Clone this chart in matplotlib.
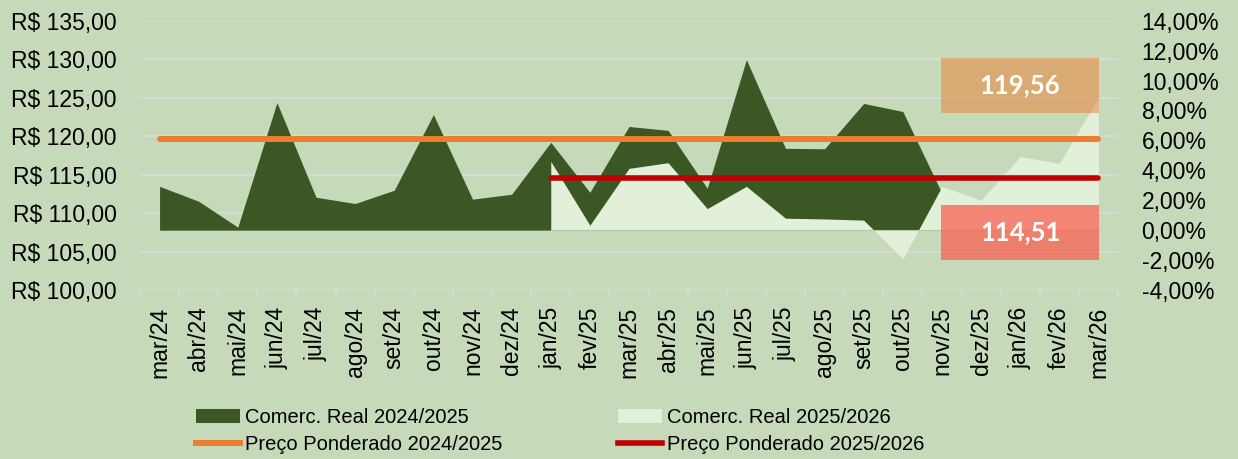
import matplotlib
matplotlib.use('Agg')
import matplotlib.pyplot as plt
from matplotlib.patches import Patch, Rectangle
from matplotlib.lines import Line2D
from matplotlib.ticker import FixedLocator, FuncFormatter
import numpy as np

plt.rcParams['font.family'] = ['Liberation Sans', 'DejaVu Sans']

months = ['mar/24', 'abr/24', 'mai/24', 'jun/24', 'jul/24', 'ago/24', 'set/24',
          'out/24', 'nov/24', 'dez/24', 'jan/25', 'fev/25', 'mar/25', 'abr/25',
          'mai/25', 'jun/25', 'jul/25', 'ago/25', 'set/25', 'out/25', 'nov/25',
          'dez/25', 'jan/26', 'fev/26', 'mar/26']

# Comerc. Real 2024/2025 (% , right axis) mar/24 .. nov/25
real_2425 = [2.93, 1.93, 0.20, 8.53, 2.20, 1.78, 2.67, 7.73, 2.07, 2.40,
             5.87, 2.53, 6.93, 6.67, 2.80, 11.40, 5.47, 5.44, 8.47, 7.93, 2.47]
# Comerc. Real 2025/2026 (% , right axis) jan/25 .. mar/26
real_2526 = [4.60, 0.33, 4.13, 4.51, 1.44, 2.93, 0.80, 0.75, 0.67, -1.93,
             2.93, 2.00, 4.93, 4.47, 8.87]
start_2526 = months.index('jan/25')

preco_2425 = 119.56   # R$ (left axis), mar/24 .. mar/26
preco_2526 = 114.51   # R$ (left axis), jan/25 .. mar/26

left_ticks = [100, 105, 110, 115, 120, 125, 130, 135]
right_ticks = [-4, -2, 0, 2, 4, 6, 8, 10, 12, 14]

BG = '#c6d9b8'
DARK = '#3b5723'
LIGHT = '#e2efd9'
ORANGE = '#ed7d31'
RED = '#c00000'
GRID = '#d9d9d9'

fig = plt.figure(figsize=(12.38, 4.59), dpi=100, facecolor=BG)
ax = fig.add_axes([140/1238, 1-290/459, (1118-140)/1238, (290-20.7)/459])
ax.set_facecolor('none')
ax2 = ax.twinx()
ax2.set_facecolor('none')

ax.set_xlim(-0.5, len(months) - 0.5)
ax.set_ylim(100, 135)
ax2.set_ylim(-4, 14)

# grid
ax.set_axisbelow(True)
ax.yaxis.set_major_locator(FixedLocator(left_ticks))
ax.grid(axis='y', color=GRID, lw=1.3, zorder=0)

# areas (percent scale of right axis)
x1 = np.arange(len(real_2425))
ax.fill_between(x1, 0, real_2425, color=DARK, lw=0, zorder=2,
                transform=ax2.transData)
x2 = np.arange(start_2526, start_2526 + len(real_2526))
ax.fill_between(x2, 0, real_2526, color=LIGHT, lw=0, zorder=3,
                transform=ax2.transData)
ax.plot([start_2526, len(months) - 1], [0, 0], color='#b5c9a6', lw=0.8,
        zorder=3.5, transform=ax2.transData)

# weighted price lines
xa = np.arange(len(months))
ax.plot(xa, [preco_2425] * len(xa), color=ORANGE, lw=4.3,
        solid_capstyle='round', zorder=4)
xb = np.arange(start_2526, len(months))
ax.plot(xb, [preco_2526] * len(xb), color=RED, lw=4.0,
        solid_capstyle='round', zorder=4)

# value boxes
fmt = lambda v: f"{v:.2f}".replace('.', ',')
ax.add_patch(Rectangle((19.98, 123.0), 4.04, 7.15, facecolor=ORANGE,
                       alpha=0.5, lw=0, zorder=5))
ax.text(22.0, 126.6, fmt(preco_2425), color='white', fontsize=18.5,
        fontweight='bold', family='Lato', ha='center', va='center', zorder=6)
ax.add_patch(Rectangle((19.98, 103.93), 4.04, 7.11, facecolor='#ff5448',
                       alpha=0.68, lw=0, zorder=5))
ax.text(22.0, 107.5, fmt(preco_2526), color='white', fontsize=18.5,
        fontweight='bold', family='Lato', ha='center', va='center', zorder=6)

# ticks
ax.yaxis.set_major_formatter(FuncFormatter(lambda v, p: 'R$ ' + f"{v:.2f}".replace('.', ',')))
ax.tick_params(axis='y', length=0, pad=17, labelsize=16.5)
ax2.yaxis.set_major_locator(FixedLocator(right_ticks))
ax2.yaxis.set_major_formatter(FuncFormatter(lambda v, p: f"{v:.2f}".replace('.', ',') + '%'))
ax2.tick_params(axis='y', length=0, pad=17, labelsize=16.5)

ax.set_xticks(xa)
ax.set_xticklabels(months, rotation=90, fontsize=16.5)
ax.set_xticks(np.arange(-0.5, len(months)), minor=True)
ax.tick_params(axis='x', which='major', length=0, pad=12)
ax.tick_params(axis='x', which='minor', length=6, width=1.3, color=GRID)

for a in (ax, ax2):
    for s in a.spines.values():
        s.set_visible(False)
ax.axhline(100, color=GRID, lw=1.3, zorder=1)

handles = [Patch(facecolor=DARK, edgecolor='none'),
           Line2D([], [], color=ORANGE, lw=4.3),
           Patch(facecolor=LIGHT, edgecolor='none'),
           Line2D([], [], color=RED, lw=4.0)]
labels = ['Comerc. Real 2024/2025', 'Preço Ponderado 2024/2025',
          'Comerc. Real 2025/2026', 'Preço Ponderado 2025/2026']
fig.legend(handles, labels, ncol=2, loc='upper left',
           bbox_to_anchor=(196/1238, 1-408/459), frameon=False,
           fontsize=14.5, borderpad=0, borderaxespad=0, handlelength=2.2,
           handletextpad=0.25, columnspacing=5.7, labelspacing=0.4)

fig.savefig('out.png', dpi=100, facecolor=BG)
